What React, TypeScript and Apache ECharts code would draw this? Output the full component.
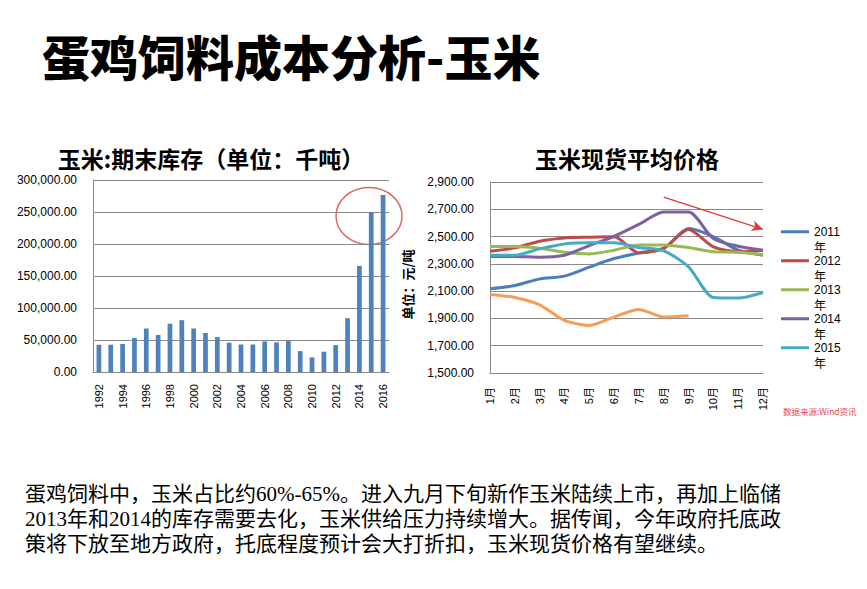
import React, { useEffect, useRef } from 'react';
import * as echarts from 'echarts';

const years = ['1992','1993','1994','1995','1996','1997','1998','1999','2000','2001','2002','2003','2004','2005','2006','2007','2008','2009','2010','2011','2012','2013','2014','2015','2016'];
const stock = [42600, 42600, 43700, 53000, 68000, 58000, 75400, 81000, 68000, 61000, 54600, 45700, 43000, 43000, 47800, 46300, 48300, 32700, 22900, 31700, 42000, 84000, 165800, 249500, 276500];

const months = ['1月','2月','3月','4月','5月','6月','7月','8月','9月','10月','11月','12月'];
const price2011 = [2117, 2141, 2190, 2210, 2276, 2339, 2380, 2412, 2559, 2500, 2400, 2363];
const price2012 = [2393, 2417, 2466, 2490, 2495, 2498, 2380, 2415, 2551, 2424, 2388, 2400];
const price2013 = [2427, 2427, 2415, 2385, 2373, 2400, 2439, 2439, 2420, 2388, 2385, 2368];
const price2014 = [2354, 2354, 2349, 2363, 2434, 2502, 2590, 2680, 2680, 2485, 2429, 2400];
const price2015 = [2363, 2363, 2410, 2446, 2454, 2454, 2420, 2395, 2278, 2053, 2049, 2090];
const price2016 = [2076, 2054, 2000, 1885, 1849, 1910, 1966, 1910, 1920];

const legendNames = ['2011年', '2012年', '2013年', '2014年', '2015年'];

const mainTitle = '蛋鸡饲料成本分析-玉米';
const leftTitle = '玉米:期末库存（单位：千吨）';
const rightTitle = '玉米现货平均价格';
const yUnit = '单位：元/吨';
const sourceNote = '数据来源:Wind资讯';
const paragraph = [
  '蛋鸡饲料中，玉米占比约60%-65%。进入九月下旬新作玉米陆续上市，再加上临储',
  '2013年和2014的库存需要去化，玉米供给压力持续增大。据传闻，今年政府托底政',
  '策将下放至地方政府，托底程度预计会大打折扣，玉米现货价格有望继续。',
];

const SANS = '"Liberation Sans", "Noto Sans CJK SC", sans-serif';
const CJK = '"Noto Sans CJK SC", sans-serif';
const SERIF = '"Liberation Serif", "Noto Sans CJK SC", serif';
const GRID_COLOR = '#8a8a8a';

const fmt2 = (v: number) =>
  v.toLocaleString('en-US', { minimumFractionDigits: 2, maximumFractionDigits: 2 });

function lineSeries(name: string, data: number[], color: string, extra: any = {}) {
  return {
    type: 'line',
    name,
    xAxisIndex: 1,
    yAxisIndex: 1,
    data,
    smooth: 0.25,
    symbol: 'none',
    lineStyle: { color, width: 3 },
    itemStyle: { color },
    ...extra,
  };
}

// legend text block: two lines of LH; the icon bar sits level with the first line
const LH = 16.7;
const BLOCK = LH * 2;
const barTop = LH / 2 - 1.5;
const legendIcon =
  `path://M0,0 L0.01,0 L0.01,0.01 Z ` +
  `M0,${barTop} L28,${barTop} L28,${barTop + 3} L0,${barTop + 3} Z ` +
  `M0,${BLOCK - 0.01} L0.01,${BLOCK - 0.01} L0.01,${BLOCK} Z`;

function buildOption(): any {
  return {
    animation: false,
    backgroundColor: '#ffffff',
    grid: [
      { left: 93, top: 180, width: 296, height: 192 },
      { left: 490, top: 182, width: 273, height: 191 },
    ],
    legend: {
      data: legendNames,
      orient: 'vertical',
      left: 781,
      top: 231.7 - LH / 2,
      padding: 0,
      itemGap: 29 - BLOCK,
      itemWidth: 28,
      itemHeight: BLOCK,
      icon: legendIcon,
      itemStyle: { borderWidth: 0 },
      selectedMode: false,
      formatter: (name: string) => name.replace('年', '\n年'),
      textStyle: {
        color: '#000',
        fontFamily: SANS,
        fontSize: 12,
        lineHeight: LH,
      },
    },
    xAxis: [
      {
        type: 'category',
        gridIndex: 0,
        data: years,
        axisLine: { lineStyle: { color: GRID_COLOR } },
        axisTick: { show: false },
        axisLabel: { rotate: 90, interval: 1, fontSize: 11, color: '#000', fontFamily: SANS, margin: 12 },
      },
      {
        type: 'category',
        gridIndex: 1,
        data: months,
        boundaryGap: false,
        axisLine: { lineStyle: { color: GRID_COLOR } },
        axisTick: { show: false },
        axisLabel: { rotate: 90, interval: 0, fontSize: 11, color: '#000', fontFamily: SANS, margin: 14 },
      },
    ],
    yAxis: [
      {
        type: 'value',
        gridIndex: 0,
        min: 0,
        max: 300000,
        interval: 50000,
        axisLine: { show: true, lineStyle: { color: GRID_COLOR } },
        axisTick: { show: false },
        splitLine: { lineStyle: { color: GRID_COLOR, width: 1 } },
        axisLabel: { formatter: fmt2, fontSize: 12, color: '#000', fontFamily: SANS, margin: 16 },
      },
      {
        type: 'value',
        gridIndex: 1,
        min: 1500,
        max: 2900,
        interval: 200,
        name: yUnit,
        nameLocation: 'middle',
        nameRotate: 90,
        nameGap: 76,
        nameTextStyle: { fontFamily: CJK, fontWeight: 'bold', fontSize: 13, color: '#000', padding: [0, 14, 0, 0] },
        axisLine: { show: true, lineStyle: { color: GRID_COLOR } },
        axisTick: { show: false },
        splitLine: { lineStyle: { color: GRID_COLOR, width: 1 } },
        axisLabel: { formatter: fmt2, fontSize: 12, color: '#000', fontFamily: SANS, margin: 16 },
      },
    ],
    series: [
      {
        type: 'bar',
        name: '期末库存',
        xAxisIndex: 0,
        yAxisIndex: 0,
        data: stock,
        barCategoryGap: '60%',
        itemStyle: { color: '#4F81BD' },
      },
      lineSeries('2011年', price2011, '#4A7EBB'),
      lineSeries('2012年', price2012, '#BE4B48'),
      lineSeries('2013年', price2013, '#98B954'),
      lineSeries('2014年', price2014, '#7D60A0'),
      lineSeries('2015年', price2015, '#46AAC5', {
        markLine: {
          silent: true,
          symbol: ['none', 'arrow'],
          symbolSize: [8, 11],
          label: { show: false },
          lineStyle: { color: '#E53935', width: 1.3, type: 'solid' },
          data: [[{ coord: ['8月', 2790] }, { coord: ['12月', 2553] }]],
        },
      }),
      lineSeries('2016年', price2016, '#F59D56'),
    ],
    graphic: [
      {
        type: 'text',
        x: 42,
        y: 55,
        style: { text: mainTitle, fill: '#000', font: `900 48px ${CJK}`, textAlign: 'left', textVerticalAlign: 'middle' },
      },
      {
        type: 'text',
        x: 211,
        y: 158,
        style: { text: leftTitle, fill: '#000', font: `bold 23px ${CJK}`, textAlign: 'center', textVerticalAlign: 'middle' },
      },
      {
        type: 'text',
        x: 627,
        y: 158,
        style: { text: rightTitle, fill: '#000', font: `bold 23px ${CJK}`, textAlign: 'center', textVerticalAlign: 'middle' },
      },
      {
        type: 'ellipse',
        shape: { cx: 369, cy: 216, rx: 33, ry: 28.5 },
        style: { fill: 'none', stroke: '#E06666', lineWidth: 1.5 },
      },
      {
        type: 'text',
        x: 783,
        y: 411,
        style: { text: sourceNote, fill: '#E8474B', font: `8.5px ${CJK}`, textAlign: 'left', textVerticalAlign: 'middle' },
      },
      ...paragraph.map((line, i) => ({
        type: 'text',
        x: 25,
        y: 494 + i * 25,
        style: { text: line, fill: '#000', font: `21px ${SERIF}`, textAlign: 'left', textVerticalAlign: 'middle' },
      })),
    ],
  };
}

export default function App() {
  const ref = useRef<HTMLDivElement>(null);
  useEffect(() => {
    if (!ref.current) return;
    const chart = echarts.init(ref.current, null, { renderer: 'svg' });
    chart.setOption(buildOption());
    return () => chart.dispose();
  }, []);
  return (
    <div
      ref={ref}
      style={{ position: 'absolute', left: 0, top: 0, width: 867, height: 589, background: '#ffffff' }}
    />
  );
}
